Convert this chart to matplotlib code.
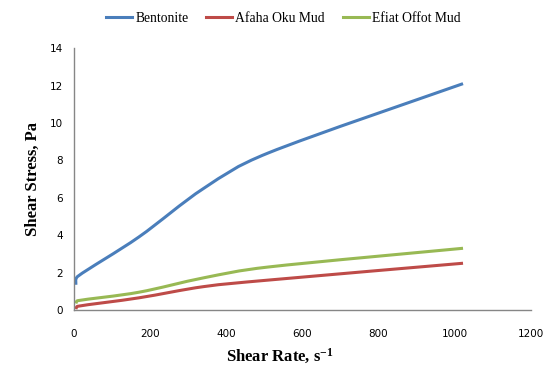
import numpy as np
import matplotlib
matplotlib.use("Agg")
import matplotlib.pyplot as plt
from matplotlib.path import Path
from matplotlib.patches import PathPatch
from matplotlib.lines import Line2D

plt.rcParams["mathtext.fontset"] = "custom"
plt.rcParams["mathtext.rm"] = "Liberation Serif:bold"
plt.rcParams["mathtext.bf"] = "Liberation Serif:bold"
plt.rcParams["mathtext.it"] = "Liberation Serif:bold"

shear_rate = [5.11, 10.22, 170.3, 340.6, 510.9, 1021.8]
bentonite = [1.35, 1.8, 3.9, 6.5, 8.4, 12.1]
afaha_oku = [0.05, 0.2, 0.65, 1.25, 1.6, 2.5]
efiat_offot = [0.35, 0.5, 0.95, 1.72, 2.3, 3.3]
series_names = ["Bentonite", "Afaha Oku Mud", "Efiat Offot Mud"]
colors = ["#4a7ebb", "#be4b48", "#98b954"]
xticks = [0, 200, 400, 600, 800, 1000, 1200]
yticks = [0, 2, 4, 6, 8, 10, 12, 14]

fig = plt.figure(figsize=(5.6, 3.88), dpi=100)
ax = fig.add_axes([0.132, 0.201, 0.816, 0.675])
ax.set_xlim(0, 1200)
ax.set_ylim(0, 14)


def clamp(v, lim):
    n = np.hypot(*v)
    return v if n <= lim else v * (lim / n)


def smooth_path(xs, ys, sx, sy):
    # Catmull-Rom style Bezier (Excel "smoothed line"), handles limited to the segment length
    X = np.array(xs, float) / sx
    Y = np.array(ys, float) / sy
    P = np.column_stack([X, Y])
    n = len(P)
    verts = [(xs[0], ys[0])]
    codes = [Path.MOVETO]
    for i in range(n - 1):
        p0 = P[max(i - 1, 0)]
        p1 = P[i]
        p2 = P[i + 1]
        p3 = P[min(i + 2, n - 1)]
        L = np.hypot(*(p2 - p1)) * 0.5
        c1 = p1 + clamp((p2 - p0) / 6.0, L)
        c2 = p2 - clamp((p3 - p1) / 6.0, L)
        verts += [(c1[0] * sx, c1[1] * sy), (c2[0] * sx, c2[1] * sy), (xs[i + 1], ys[i + 1])]
        codes += [Path.CURVE4] * 3
    return Path(verts, codes)


handles = []
for ys, c, name in zip([bentonite, afaha_oku, efiat_offot], colors, series_names):
    p = smooth_path(shear_rate, ys, 1200 / 457.0, 14 / 262.0)
    ax.add_patch(PathPatch(p, facecolor="none", edgecolor=c, lw=2.2, capstyle="butt"))
    handles.append(Line2D([], [], color=c, lw=2.2))

ax.set_xticks(xticks)
ax.set_yticks(yticks)
ax.tick_params(length=0, labelsize=7.5, colors="black")
ax.tick_params(axis="x", pad=14)
ax.tick_params(axis="y", pad=8)
for s in ["top", "right"]:
    ax.spines[s].set_visible(False)
for s in ["left", "bottom"]:
    ax.spines[s].set_color("#868686")
    ax.spines[s].set_linewidth(1.0)

ax.set_xlabel("Shear Rate, s$^{-1}$", family="Liberation Serif",
              fontweight="bold", fontsize=12)
ax.xaxis.set_label_coords(0.45, -0.14)
ax.set_ylabel("Shear Stress, Pa", family="Liberation Serif",
              fontweight="bold", fontsize=12, labelpad=6)

leg = fig.legend(handles, series_names, loc="center", bbox_to_anchor=(0.506, 0.953),
                 ncol=3, frameon=False, prop={"family": "Liberation Serif", "size": 9.8},
                 handlelength=1.9, handletextpad=0.25, columnspacing=1.3)

fig.savefig("out.png", dpi=100)
